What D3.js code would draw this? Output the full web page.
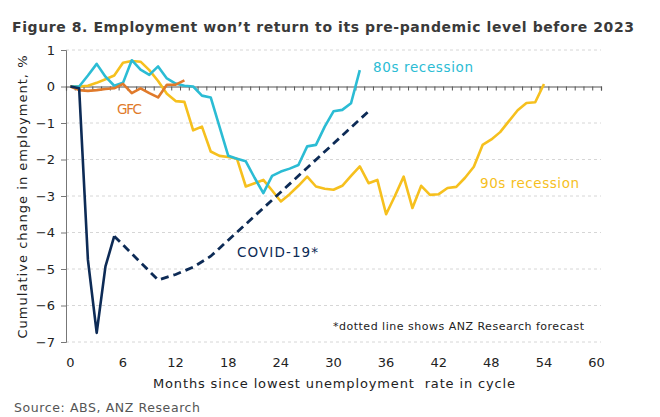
<!DOCTYPE html>
<html>
<head>
<meta charset="utf-8">
<script src="https://cdn.jsdelivr.net/npm/d3@7"></script>
<style>
  body { margin: 0; background: #fff; }
  svg { display: block; font-family: "DejaVu Sans", Verdana, sans-serif; }
</style>
</head>
<body>
<div id="chart"></div>
<script>
// months since lowest unemployment rate, cumulative % change in employment
const covidMonths = [0, 1, 2, 3, 4, 5];
const covidValues = [0, -0.05, -4.75, -6.75, -4.93, -4.1];
const forecastMonths = [5, 10, 12, 14, 16, 17, 24, 34];
const forecastValues = [-4.1, -5.3, -5.15, -4.95, -4.65, -4.43, -2.89, -0.68];

const gfcValues = [0, -0.1, -0.12, -0.1, -0.07, -0.05, 0.07, -0.18, -0.05, -0.18, -0.3, 0.05, 0.05, 0.17];

const eightiesValues = [0, 0, 0.3, 0.62, 0.27, 0.02, 0.1, 0.72, 0.46, 0.32, 0.55, 0.22, 0.08, 0.02,
  0, -0.25, -0.3, -1.1, -1.9, -1.98, -2.05, -2.5, -2.92, -2.45, -2.33, -2.25, -2.15, -1.64,
  -1.6, -1.1, -0.68, -0.64, -0.46, 0.45];

const ninetiesValues = [0, 0, 0.02, 0.1, 0.2, 0.3, 0.65, 0.7, 0.68, 0.45, 0.15, -0.2, -0.4, -0.42,
  -1.2, -1.1, -1.78, -1.9, -1.93, -1.98, -2.74, -2.65, -2.56, -2.85, -3.15, -2.95, -2.72, -2.47,
  -2.74, -2.8, -2.83, -2.72, -2.45, -2.19, -2.65, -2.56, -3.5, -3.0, -2.47, -3.33, -2.72, -2.97,
  -2.95, -2.78, -2.75, -2.5, -2.2, -1.6, -1.45, -1.25, -0.95, -0.65, -0.45, -0.43, 0.07];

const xTickValues = [0, 6, 12, 18, 24, 30, 36, 42, 48, 54, 60];
const yTickValues = [1, 0, -1, -2, -3, -4, -5, -6, -7];

const W = 660, H = 417;
const svg = d3.select('#chart').append('svg')
  .attr('width', W)
  .attr('height', H);

const x = d3.scaleLinear().domain([-0.5, 60.5]).range([66, 601]);
const y = d3.scaleLinear().domain([-7, 1]).range([342, 50]);

// title
svg.append('text')
  .attr('x', 12)
  .attr('y', 32)
  .attr('font-size', 14)
  .attr('font-weight', 'bold')
  .attr('fill', '#3a3a3a')
  .attr('textLength', 622)
  .attr('lengthAdjust', 'spacing')
  .text('Figure 8. Employment won\u2019t return to its pre-pandemic level before 2023');

// gridlines
svg.append('g')
  .selectAll('line')
  .data(yTickValues.filter(d => d !== 0))
  .join('line')
  .attr('x1', x(-0.5))
  .attr('x2', x(60.5))
  .attr('y1', d => y(d))
  .attr('y2', d => y(d))
  .attr('stroke', '#d6d6d6')
  .attr('stroke-dasharray', '3,3');

// y axis
const yAxis = svg.append('g')
  .attr('transform', `translate(${x(-0.5)},0)`)
  .call(d3.axisLeft(y).tickValues(yTickValues).tickSize(5).tickPadding(6).tickFormat(d3.format('d')));
yAxis.select('.domain').attr('stroke', '#777');
yAxis.selectAll('.tick line').attr('stroke', '#777');
yAxis.selectAll('text').attr('font-size', 13).attr('fill', '#222').attr('font-family', '"DejaVu Sans", sans-serif');

// x axis along zero line, month ticks
const xAxis = svg.append('g')
  .attr('transform', `translate(0,${y(0)})`)
  .call(d3.axisBottom(x).tickValues(d3.range(-0.5, 61, 1)).tickSize(4).tickFormat(''));
xAxis.select('.domain').attr('stroke', '#555').attr('stroke-width', 1.2);
xAxis.selectAll('.tick line').attr('stroke', '#555');

// x tick labels under plot
svg.append('g')
  .selectAll('text')
  .data(xTickValues)
  .join('text')
  .attr('x', d => x(d))
  .attr('y', 367)
  .attr('text-anchor', 'middle')
  .attr('font-size', 13)
  .attr('fill', '#222')
  .text(d => d);

svg.append('text')
  .attr('x', 153)
  .attr('y', 388)
  .attr('font-size', 13)
  .attr('fill', '#222')
  .attr('textLength', 362)
  .attr('lengthAdjust', 'spacing')
  .text('Months since lowest unemployment  rate in cycle')
  .attr('xml:space', 'preserve');

svg.append('text')
  .attr('transform', 'translate(27,197) rotate(-90)')
  .attr('text-anchor', 'middle')
  .attr('font-size', 13)
  .attr('fill', '#222')
  .attr('textLength', 283)
  .attr('lengthAdjust', 'spacing')
  .text('Cumulative change in employment, %');

svg.append('text')
  .attr('x', 14)
  .attr('y', 412)
  .attr('font-size', 12.5)
  .attr('fill', '#555')
  .attr('textLength', 186)
  .attr('lengthAdjust', 'spacing')
  .text('Source: ABS, ANZ Research');

// series
const line = d3.line().x(d => x(d[0])).y(d => y(d[1]));
const withMonths = vals => vals.map((v, i) => [i, v]);

const series = [
  { pts: withMonths(ninetiesValues), color: '#f6c01e' },
  { pts: withMonths(eightiesValues), color: '#2bbcd4' },
  { pts: withMonths(gfcValues), color: '#e07a2b' },
  { pts: covidMonths.map((m, i) => [m, covidValues[i]]), color: '#0d2b56' }
];

svg.append('g')
  .selectAll('path')
  .data(series)
  .join('path')
  .attr('d', d => line(d.pts))
  .attr('fill', 'none')
  .attr('stroke', d => d.color)
  .attr('stroke-width', 2.6)
  .attr('stroke-linejoin', 'round');

svg.append('path')
  .datum(forecastMonths.map((m, i) => [m, forecastValues[i]]))
  .attr('d', line)
  .attr('fill', 'none')
  .attr('stroke', '#0d2b56')
  .attr('stroke-width', 2.8)
  .attr('stroke-dasharray', '8,5');

// series labels
const labels = [
  { text: 'GFC', x: 117, y: 114, w: 25, color: '#e07a2b' },
  { text: 'COVID-19*', x: 237, y: 257, w: 81, color: '#0d2b56' },
  { text: '80s recession', x: 373, y: 72, w: 100, color: '#2bbcd4' },
  { text: '90s recession', x: 480, y: 188, w: 99, color: '#f6c01e' }
];
svg.append('g')
  .selectAll('text')
  .data(labels)
  .join('text')
  .attr('x', d => d.x)
  .attr('y', d => d.y)
  .attr('font-size', 13.5)
  .attr('fill', d => d.color)
  .attr('textLength', d => d.w)
  .attr('lengthAdjust', 'spacing')
  .text(d => d.text);

svg.append('text')
  .attr('x', 333)
  .attr('y', 330)
  .attr('font-size', 11)
  .attr('fill', '#222')
  .attr('textLength', 251)
  .attr('lengthAdjust', 'spacing')
  .text('*dotted line shows ANZ Research forecast');
</script>
</body>
</html>
